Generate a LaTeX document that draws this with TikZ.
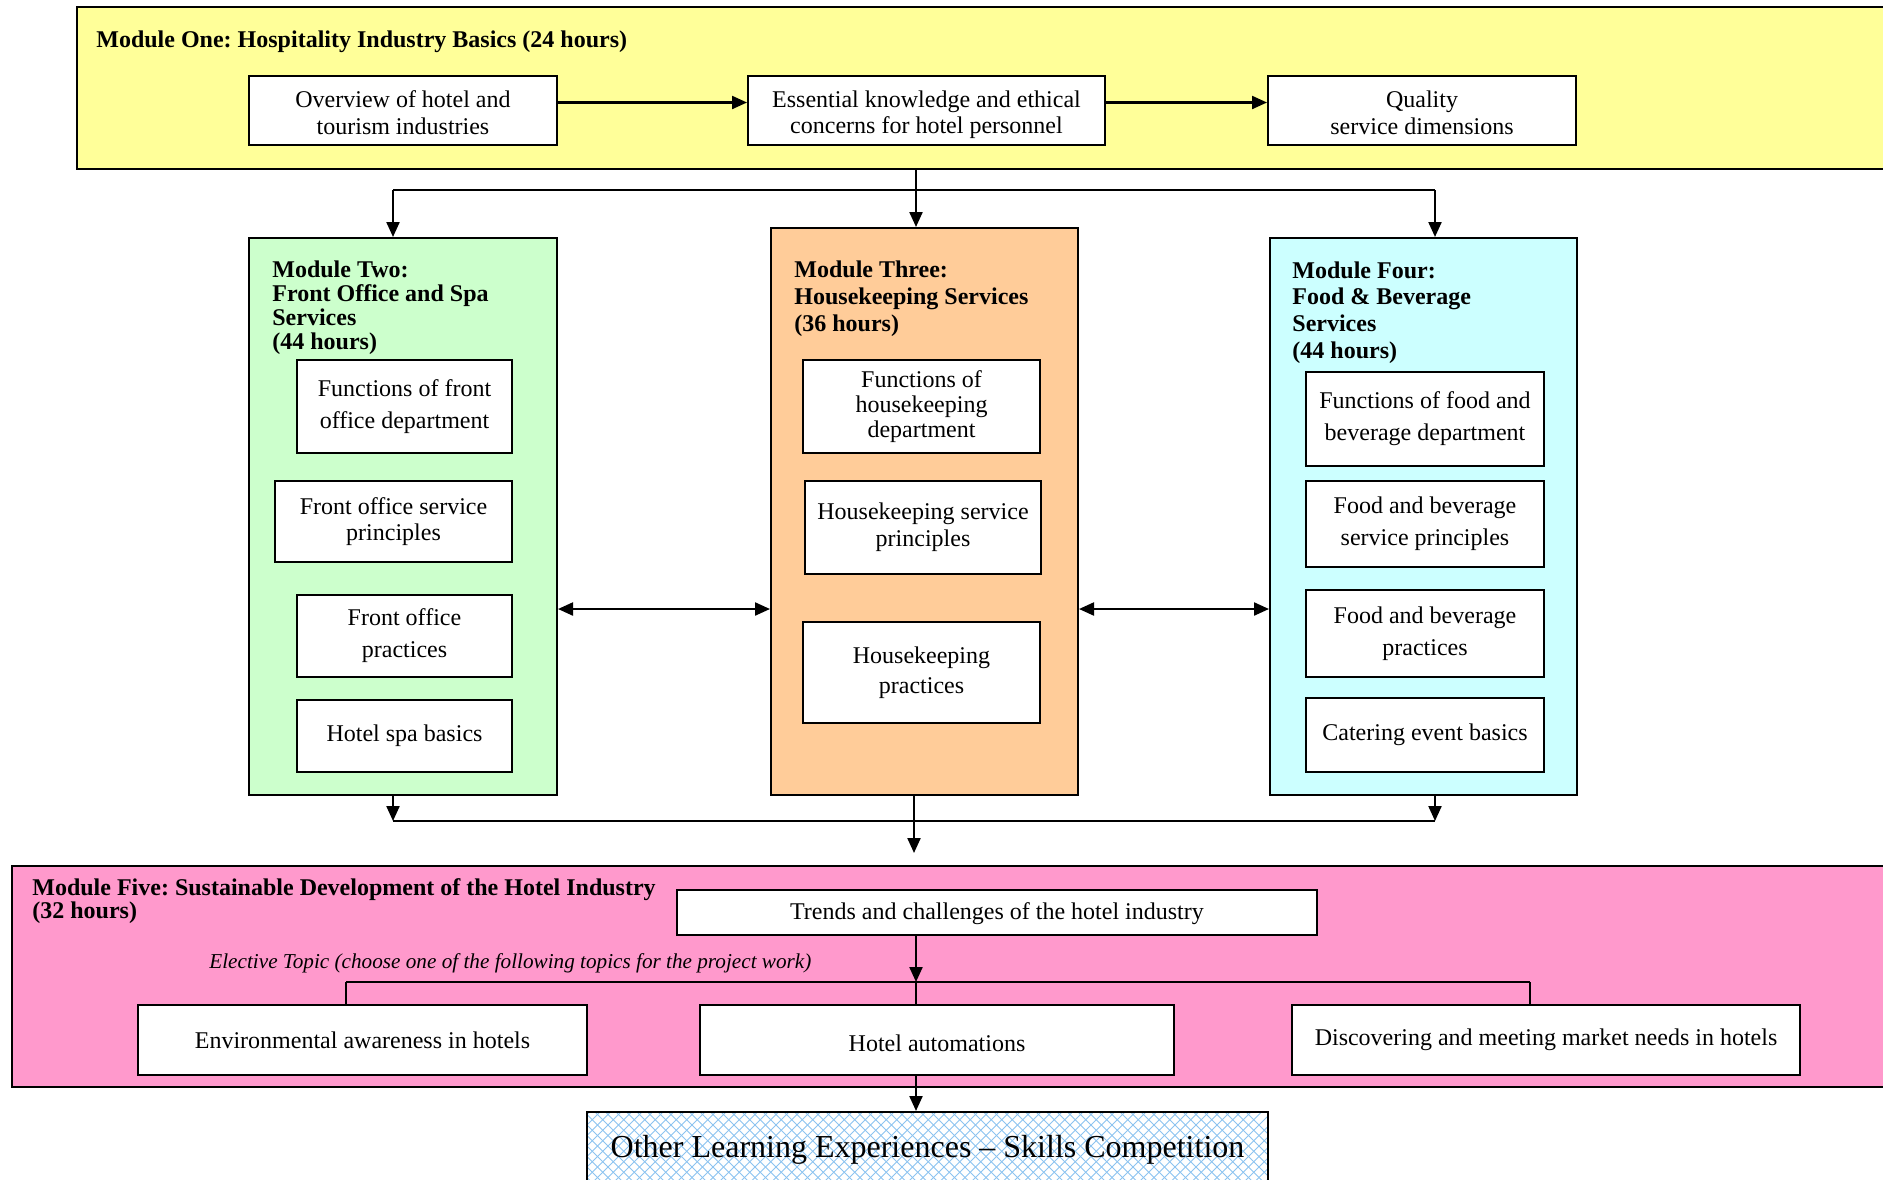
\documentclass[tikz,border=0pt]{standalone}
\usepackage{fontspec}
\setmainfont{Liberation Serif}
\usetikzlibrary{arrows.meta}
\frenchspacing
\definecolor{yellowM}{HTML}{FFFF99}
\definecolor{greenM}{HTML}{CCFFCC}
\definecolor{orangeM}{HTML}{FFCC99}
\definecolor{cyanM}{HTML}{CCFFFF}
\definecolor{pinkM}{HTML}{FF99CC}
\definecolor{hatchC}{RGB}{140,195,240}
\newcommand{\tallstrut}[1]{\rule{0pt}{#1}}
\tikzset{
  wh/.style 2 args={minimum width=#1*0.5pt, minimum height=#2*0.5pt},
  mod/.style={draw=black, line width=1pt, inner sep=0pt},
  ibox/.style={draw=black, fill=white, line width=1pt, align=center, inner sep=0pt, font=\fontsize{12}{13.2}\selectfont},
  ttl/.style={anchor=base west, align=left, inner sep=0pt, font=\bfseries\fontsize{12}{12}\selectfont},
  arr/.style={line width=1.1pt, -{Triangle[length=7.5pt,width=6.5pt]}},
  arrs/.style={line width=1.1pt, {Triangle[length=7.5pt,width=6.5pt]}-{Triangle[length=7.5pt,width=6.5pt]}},
  bus/.style={line width=1.4pt},
  thinln/.style={line width=0.6pt},
}
\begin{document}
\begin{tikzpicture}[x=0.5pt, y=-0.5pt]
\useasboundingbox (0,0) rectangle (1883,1179);
\fill[white] (0,0) rectangle (1883,1179);
\clip (0,0) rectangle (1883,1179);

% Module One
\node[mod, fill=yellowM, wh={1823}{162}] (m1) at (988.5,88) {};
\node[ttl] (t1) at (96,47) {Module One: Hospitality Industry Basics (24 hours)};
\node[ibox, wh={308}{69}] (o1) at (403,110.5) {\tallstrut{10.8pt}Overview of hotel and\\tourism industries};
\node[ibox, wh={357}{69}] (o2) at (926.5,110.5) {\tallstrut{12.8pt}Essential knowledge and ethical\\concerns for hotel personnel};
\node[ibox, wh={308}{69}] (o3) at (1422,110.5) {\tallstrut{10.8pt}Quality\\service dimensions};
\draw[arr] ([yshift=4pt]o1.east) -- ([yshift=4pt]o2.west);
\draw[arr] ([yshift=4pt]o2.east) -- ([yshift=4pt]o3.west);

% Module Two
\node[mod, fill=greenM, wh={308}{557}] (m2) at (403,516.5) {};
\node[ttl] (t2) at (272,349) {Module Two:\\Front Office and Spa\\Services\\(44 hours)};
\node[ibox, wh={215}{93}, font=\fontsize{12}{16}\selectfont] (f2a) at (404.5,406.5) {Functions of front\\office department};
\node[ibox, wh={237}{81}, font=\fontsize{12}{13}\selectfont] (f2b) at (393.5,521.5) {Front office service\\principles};
\node[ibox, wh={215}{82}, font=\fontsize{12}{16}\selectfont] (f2c) at (404.5,636) {Front office\\practices};
\node[ibox, wh={215}{72}] (f2d) at (404.5,736) {Hotel spa basics};

% Module Three
\node[mod, fill=orangeM, wh={307}{567}] (m3) at (924.5,511.5) {};
\node[ttl, font=\bfseries\fontsize{12}{13.3}\selectfont] (t3) at (794,331) {Module Three:\\Housekeeping Services\\(36 hours)};
\node[ibox, wh={237}{93}, font=\fontsize{12}{12.3}\selectfont] (f3a) at (921.5,406.5) {Functions of\\housekeeping\\department};
\node[ibox, wh={236}{93}, font=\fontsize{12}{13.5}\selectfont] (f3b) at (923,527.5) {Housekeeping service\\principles};
\node[ibox, wh={237}{101}, font=\fontsize{12}{15.2}\selectfont] (f3c) at (921.5,672.5) {Housekeeping\\practices};

% Module Four
\node[mod, fill=cyanM, wh={307}{557}] (m4) at (1423.5,516.5) {};
\node[ttl, font=\bfseries\fontsize{12}{13.3}\selectfont] (t4) at (1292,358) {Module Four:\\Food \& Beverage\\Services\\(44 hours)};
\node[ibox, wh={238}{94}, font=\fontsize{12}{16}\selectfont] (f4a) at (1425,419) {Functions of food and\\beverage department};
\node[ibox, wh={238}{86}, font=\fontsize{12}{16}\selectfont] (f4b) at (1425,524) {Food and beverage\\service principles};
\node[ibox, wh={238}{87}, font=\fontsize{12}{16}\selectfont] (f4c) at (1425,633.5) {Food and beverage\\practices};
\node[ibox, wh={238}{74}] (f4d) at (1425,735) {Catering event basics};

% top connectors
\coordinate (bt) at (916,190);
\coordinate (busL) at (393,190);
\coordinate (busR) at (1435,190);
\draw[bus] (busL) -- (busR);
\draw[arr] (busL) -- (busL |- m2.north);
\draw[arr] (busR) -- (busR |- m4.north);
\draw[arr] (bt |- m1.south) -- (bt |- m3.north);

% side connectors
\coordinate (ha) at (0,609);
\draw[arrs] (m2.east |- ha) -- (m3.west |- ha);
\draw[arrs] (m3.east |- ha) -- (m4.west |- ha);

% bottom connectors
\coordinate (bbL) at (393,821);
\coordinate (bbR) at (1435,821);
\coordinate (bm) at (914,853);
\draw[arr] (bbL |- m2.south) -- (bbL);
\draw[arr] (bbR |- m4.south) -- (bbR);
\draw[bus] (bbL) -- (bbR);
\draw[arr] (bm |- m3.south) -- (bm);

% Module Five
\node[mod, fill=pinkM, wh={1888}{221}] (m5) at (956,976.5) {};
\node[ttl, font=\bfseries\fontsize{12}{11.5}\selectfont] (t5) at (32,918) {Module Five: Sustainable Development of the Hotel Industry\\(32 hours)};
\node[ibox, wh={640}{45}] (tr) at (997,912.5) {\tallstrut{10pt}Trends and challenges of the hotel industry};
\node[anchor=base west, inner sep=0pt, font=\itshape\fontsize{10.6}{12}\selectfont] (el) at (209,968) {Elective Topic (choose one of the following topics for the project work)};
\node[ibox, wh={449}{70}] (e1) at (362.5,1040) {Environmental awareness in hotels};
\node[ibox, wh={474}{70}] (e2) at (937,1040) {\tallstrut{12pt}Hotel automations};
\node[ibox, wh={508}{70}] (e3) at (1546,1040) {Discovering and meeting market needs in hotels};
\coordinate (eb) at (916,982);
\coordinate (ebL) at (346,982);
\coordinate (ebR) at (1530,982);
\draw[arr] (eb |- tr.south) -- (eb);
\draw[thinln] (ebL) -- (ebR);
\draw[thinln] (ebL) -- (ebL |- e1.north);
\draw[thinln] (ebR) -- (ebR |- e3.north);
\draw[line width=0.9pt] (eb) -- (eb |- e2.north);

% Skills
\node[draw=black, fill=white, line width=1pt, wh={681}{76}, inner sep=0pt, font=\fontsize{16}{19}\selectfont,
  path picture={
    \foreach \k in {-14,...,70} {
      \draw[hatchC, line width=0.45pt] ([xshift=\k*5.25pt]path picture bounding box.south west) -- ++(45:70pt);
      \draw[hatchC, line width=0.45pt] ([xshift=\k*5.25pt]path picture bounding box.south west) -- ++(135:70pt);
    }
  }] (sk) at (927.5,1150) {Other Learning Experiences -- Skills Competition};
\draw[arr] (eb |- e2.south) -- (eb |- sk.north);
\end{tikzpicture}
\end{document}
